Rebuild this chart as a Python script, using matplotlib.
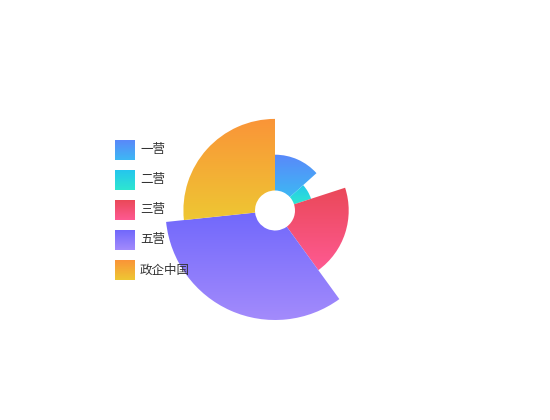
import numpy as np
import matplotlib
matplotlib.use("Agg")
import matplotlib.pyplot as plt
from matplotlib.patches import Wedge, Rectangle
from matplotlib.colors import to_rgb

plt.rcParams['font.family'] = ['Noto Sans CJK SC', 'DejaVu Sans']

categories = ['一营', '二营', '三营', '五营', '政企中国']
values = [20, 10, 30, 50, 40]
color_top = ['#5a88fa', '#25c6ee', '#ea4858', '#7168fb', '#fa9438']
color_bottom = ['#3db8f4', '#2ee6d0', '#fe5a92', '#a38bfc', '#eec733']

W, H = 550, 420
fig = plt.figure(figsize=(W / 100, H / 100), dpi=100)
ax = fig.add_axes([0, 0, 1, 1])
ax.set_xlim(0, W)
ax.set_ylim(0, H)
ax.set_aspect('equal')
ax.axis('off')

cx, cy = 275, H - 210.5
r0, r1 = 20, 109.5


def grad_img(c1, c2, n=256):
    a = np.array(to_rgb(c1))
    b = np.array(to_rgb(c2))
    t = np.linspace(0, 1, n)[:, None]
    return (a * (1 - t) + b * t)[:, None, :]


total = sum(values)
vmax = max(values)
start = 0.0
for i, v in enumerate(values):
    span = 360.0 * v / total
    end = start + span
    r = r0 + (r1 - r0) * v / vmax
    w = Wedge((cx, cy), r, 90 - end, 90 - start, width=r - r0,
              facecolor='none', edgecolor='none')
    ax.add_patch(w)
    ext = w.get_path().get_extents()
    im = ax.imshow(grad_img(color_top[i], color_bottom[i]), origin='upper',
                   extent=[ext.x0, ext.x1, ext.y0, ext.y1], aspect='auto',
                   interpolation='bilinear', zorder=2)
    im.set_clip_path(w)
    start = end

# legend
lx, ly0, step = 115, 140, 30
for i, name in enumerate(categories):
    ytop = H - (ly0 + i * step)
    rect = Rectangle((lx, ytop - 20), 20, 20, facecolor='none', edgecolor='none')
    ax.add_patch(rect)
    im = ax.imshow(grad_img(color_top[i], color_bottom[i]), origin='upper',
                   extent=[lx, lx + 20, ytop - 20, ytop], aspect='auto',
                   interpolation='bilinear', zorder=2)
    im.set_clip_path(rect)
    ax.text(lx + 25, ytop - 10, name, fontsize=9, color='#333333',
            va='center', ha='left')

ax.set_xlim(0, W)
ax.set_ylim(0, H)
fig.savefig('out.png', dpi=100)
